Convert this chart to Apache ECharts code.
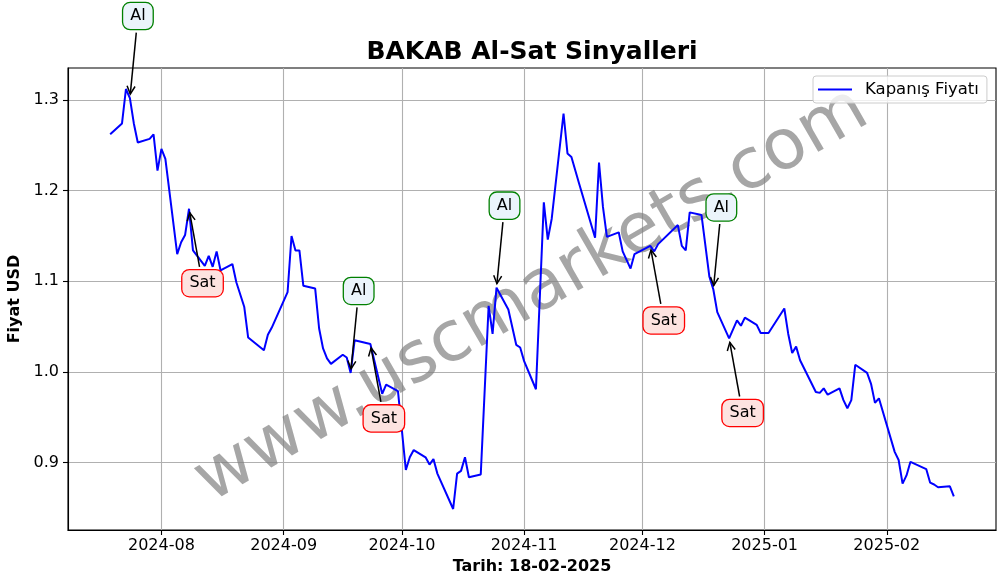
<!DOCTYPE html>
<html><head><meta charset="utf-8">
<script src="https://cdn.jsdelivr.net/npm/echarts@6/dist/echarts.min.js"></script>
<style>html,body{margin:0;padding:0;background:#fff}#c{width:1006px;height:585px}</style>
</head><body><div id="c"></div>
<script>
// ---- data ----
const dates = [
 '2024-07-19','2024-07-22','2024-07-23','2024-07-24','2024-07-25','2024-07-26','2024-07-29','2024-07-30','2024-07-31',
 '2024-08-01','2024-08-02','2024-08-05','2024-08-06','2024-08-07','2024-08-08','2024-08-09','2024-08-12','2024-08-13',
 '2024-08-14','2024-08-15','2024-08-16','2024-08-19','2024-08-20','2024-08-22','2024-08-23','2024-08-27','2024-08-28',
 '2024-08-29','2024-09-02','2024-09-03','2024-09-04','2024-09-05','2024-09-06','2024-09-09','2024-09-10','2024-09-11',
 '2024-09-12','2024-09-13','2024-09-16','2024-09-17','2024-09-18','2024-09-19','2024-09-23','2024-09-26','2024-09-27',
 '2024-09-30','2024-10-02','2024-10-03','2024-10-04','2024-10-07','2024-10-08','2024-10-09','2024-10-10','2024-10-14',
 '2024-10-15','2024-10-16','2024-10-17','2024-10-18','2024-10-21','2024-10-23','2024-10-24','2024-10-25','2024-10-28',
 '2024-10-30','2024-10-31','2024-11-01','2024-11-04','2024-11-06','2024-11-07','2024-11-08','2024-11-11','2024-11-12',
 '2024-11-13','2024-11-15','2024-11-19','2024-11-20','2024-11-21','2024-11-22','2024-11-25','2024-11-26','2024-11-28',
 '2024-11-29','2024-12-03','2024-12-04','2024-12-05','2024-12-10','2024-12-11','2024-12-12','2024-12-13','2024-12-16',
 '2024-12-18','2024-12-19','2024-12-20','2024-12-23','2024-12-25','2024-12-26','2024-12-27','2024-12-30','2024-12-31',
 '2025-01-02','2025-01-06','2025-01-07','2025-01-08','2025-01-09','2025-01-10','2025-01-14','2025-01-15','2025-01-16',
 '2025-01-17','2025-01-20','2025-01-21','2025-01-22','2025-01-23','2025-01-24','2025-01-27','2025-01-28','2025-01-29',
 '2025-01-30','2025-02-03','2025-02-04','2025-02-05','2025-02-06','2025-02-07','2025-02-11','2025-02-12','2025-02-13',
 '2025-02-14','2025-02-17','2025-02-18'
];
const prices = [
 1.262,1.274,1.312,1.302,1.274,1.253,1.257,1.262,1.222,
 1.246,1.235,1.130,1.143,1.151,1.180,1.134,1.117,1.128,
 1.116,1.133,1.112,1.119,1.099,1.072,1.038,1.024,1.041,
 1.049,1.088,1.150,1.134,1.134,1.095,1.092,1.048,1.026,
 1.015,1.009,1.019,1.016,0.999,1.035,1.031,0.976,0.986,
 0.979,0.892,0.906,0.914,0.906,0.898,0.904,0.888,0.849,
 0.888,0.891,0.906,0.884,0.887,1.073,1.042,1.093,1.069,
 1.030,1.027,1.012,0.981,1.187,1.146,1.169,1.285,1.241,
 1.237,1.207,1.148,1.231,1.182,1.149,1.154,1.133,1.114,
 1.130,1.139,1.133,1.141,1.162,1.139,1.134,1.176,1.173,
 1.105,1.091,1.066,1.037,1.057,1.051,1.060,1.052,1.043,
 1.043,1.070,1.042,1.021,1.028,1.013,0.978,0.977,0.982,
 0.975,0.982,0.969,0.960,0.969,1.008,0.999,0.987,0.966,
 0.971,0.912,0.903,0.877,0.886,0.901,0.893,0.878,0.876,
 0.873,0.874,0.863
];
const alDates = ['2024-07-24','2024-09-18','2024-10-25','2024-12-19'];
const satDates = ['2024-08-08','2024-09-23','2024-12-03','2024-12-23'];
const monthTicks = ['2024-08-01','2024-09-01','2024-10-01','2024-11-01','2024-12-01','2025-01-01','2025-02-01'];
const yTicks = [0.9, 1.0, 1.1, 1.2, 1.3];
const titleText = 'BAKAB Al-Sat Sinyalleri';
const xName = 'Tarih: 18-02-2025';
const yName = 'Fiyat USD';
const seriesName = 'Kapanış Fiyatı';
const watermark = 'www.uscmarkets.com';

// ---- helpers ----
function ts(s){ const p = s.split('-').map(Number); return Date.UTC(p[0], p[1]-1, p[2]); }
const FONT = 'DejaVu Sans';
const W = 1006, H = 585;
const G = {left: 68, right: 10, top: 68, bottom: 55};

const t0 = ts(dates[0]), t1 = ts(dates[dates.length-1]);
const xr = t1 - t0;
const pMin = Math.min.apply(null, prices), pMax = Math.max.apply(null, prices);
const yr = pMax - pMin;

const chart = echarts.init(document.getElementById('c'), null, {renderer:'canvas'});
const option = {
  animation: false,
  backgroundColor: '#fff',
  textStyle: {fontFamily: FONT},
  grid: {left: G.left, right: G.right, top: G.top, bottom: G.bottom, containLabel: false, outerBoundsMode: 'none',
    show: true, borderColor: '#000', borderWidth: 1.1, backgroundColor: 'transparent'},
  legend: {
    left: 813, top: 76,
    padding: [5, 8, 5, 5],
    backgroundColor: 'rgba(255,255,255,0.8)',
    borderColor: '#cccccc', borderWidth: 1, borderRadius: 3,
    itemWidth: 34, itemHeight: 2,
    icon: 'rect',
    textStyle: {fontFamily: FONT, fontSize: 16.5, color: '#000', padding: [0,0,0,8]},
    data: [seriesName]
  },
  xAxis: {
    type: 'value',
    min: t0 - 0.05*xr, max: t1 + 0.05*xr,
    name: xName, nameLocation: 'middle', nameGap: 26,
    nameTextStyle: {fontFamily: FONT, fontSize: 16, fontWeight: 'bold', color: '#000'},
    axisLine: {show: true, onZero: false, lineStyle: {color: '#000', width: 1.1}},
    axisTick: {show: true, length: 5, lineStyle: {color: '#000', width: 1.1}, customValues: monthTicks.map(ts)},
    axisLabel: {
      fontFamily: FONT, fontSize: 16, color: '#000', margin: 8,
      customValues: monthTicks.map(ts),
      formatter: function(v){ const d = new Date(v); return d.getUTCFullYear() + '-' + String(d.getUTCMonth()+1).padStart(2,'0'); }
    },
    splitLine: {show: true, lineStyle: {color: '#b0b0b0', width: 1.1}}
  },
  yAxis: {
    type: 'value',
    min: pMin - 0.05*yr, max: pMax + 0.05*yr,
    name: yName, nameLocation: 'middle', nameGap: 43, nameRotate: 90,
    nameTextStyle: {fontFamily: FONT, fontSize: 16, fontWeight: 'bold', color: '#000'},
    axisLine: {show: true, onZero: false, lineStyle: {color: '#000', width: 1.1}},
    axisTick: {show: true, length: 5, lineStyle: {color: '#000', width: 1.1}, customValues: yTicks},
    axisLabel: {fontFamily: FONT, fontSize: 16, color: '#000', margin: 9, customValues: yTicks,
      formatter: function(v){ return v.toFixed(1); }},
    splitLine: {show: true, lineStyle: {color: '#b0b0b0', width: 1.1}}
  },
  series: [{
    name: seriesName, type: 'line', z: 10,
    showSymbol: false, symbol: 'none',
    lineStyle: {color: '#0000ff', width: 2},
    itemStyle: {color: '#0000ff'},
    data: dates.map(function(d, i){ return [ts(d), prices[i]]; })
  }]
};
chart.setOption(option);

// ---- annotations (positions derived via the chart's own scales) ----
const STYLE = {
  Al:  {off: [8, -82],    hw: 15, hh: 14.5, bg: '#ebf4fb', border: '#008000'},
  Sat: {off: [13.5, 74.5], hw: 21, hh: 14.5, bg: '#fde3e0', border: '#ff0000'}
};
const els = [];
const gx = G.left + (W - G.left - G.right)/2;
const gy = G.top + (H - G.top - G.bottom)/2;
els.push({type:'text', x: gx, y: gy - 3, rotation: Math.PI/6, z: 1, silent: true,
  style:{text: watermark, font: '70px "' + FONT + '"', fill: 'rgba(128,128,128,0.7)', align:'center', verticalAlign:'middle'}});
els.push({type:'text', x: gx, y: 52, z: 50,
  style:{text: titleText, font: 'bold 25px "' + FONT + '"', fill: '#000', align:'center', verticalAlign:'middle'}});

const sigs = alDates.map(function(d){return {d:d, k:'Al'};}).concat(satDates.map(function(d){return {d:d, k:'Sat'};}));
sigs.forEach(function(s){
  const price = prices[dates.indexOf(s.d)];
  const p = chart.convertToPixel({gridIndex: 0}, [ts(s.d), price]);
  const st = STYLE[s.k];
  const tx = p[0] + st.off[0], ty = p[1] + st.off[1];
  let dx = p[0] - tx, dy = p[1] - ty;
  const L = Math.hypot(dx, dy); dx /= L; dy /= L;
  const sb = Math.min(st.hw/Math.max(Math.abs(dx),1e-6), st.hh/Math.max(Math.abs(dy),1e-6)) + 2;
  const x1 = tx + dx*sb, y1 = ty + dy*sb;
  const x2 = p[0] - dx*4, y2 = p[1] - dy*4;
  const hl = 8, hwid = 4;
  const bx = x2 - dx*hl, by = y2 - dy*hl, nx = -dy, ny = dx;
  els.push({type:'line', z: 100, shape:{x1:x1, y1:y1, x2:x2, y2:y2}, style:{stroke:'#000', lineWidth:1.5}});
  els.push({type:'polyline', z: 100, shape:{points:[[bx+nx*hwid, by+ny*hwid],[x2,y2],[bx-nx*hwid, by-ny*hwid]]}, style:{stroke:'#000', lineWidth:1.5, fill:null}});
  els.push({type:'text', x: tx, y: ty, z: 101,
    style:{text: s.k, font: '16px "' + FONT + '"', fill:'#000', align:'center', verticalAlign:'middle',
      backgroundColor: st.bg, borderColor: st.border, borderWidth: 1.3, borderRadius: 7, padding: [5, 7]}});
});
chart.setOption({graphic: {elements: els}});
</script>
</body></html>
